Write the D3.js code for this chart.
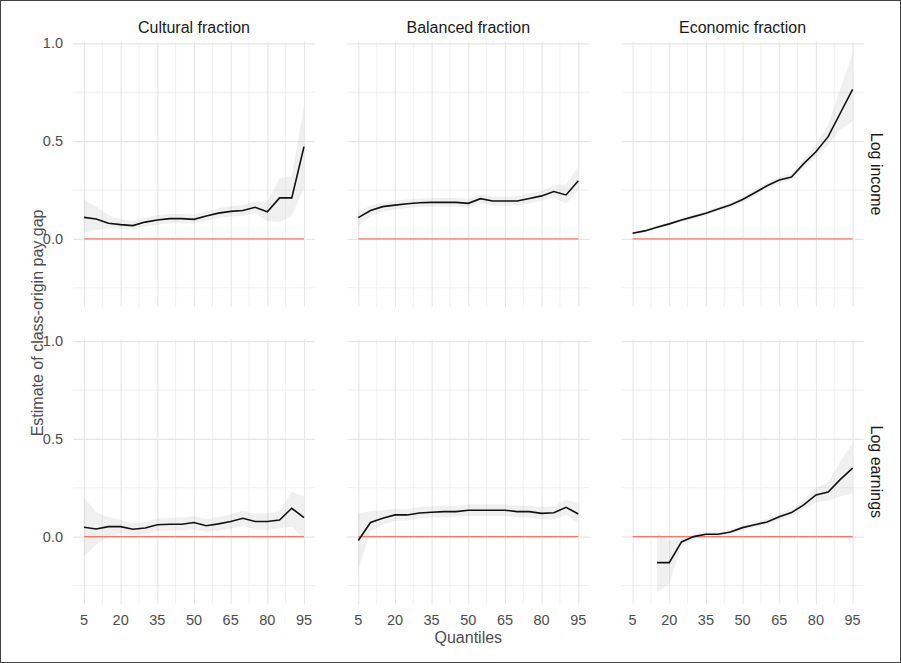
<!DOCTYPE html>
<html><head><meta charset="utf-8">
<script src="https://cdn.jsdelivr.net/npm/d3@7"></script>
<style>body{margin:0;background:#fff}svg{display:block}text{font-family:"Liberation Sans",Arial,sans-serif}</style>
</head><body><svg id="chart" width="901" height="663"></svg>
<script>
const quantiles = [5,10,15,20,25,30,35,40,45,50,55,60,65,70,75,80,85,90,95];
const xTicks = [5,20,35,50,65,80,95];
const yTicks = [0,0.5,1.0];
const columns = ["Cultural fraction","Balanced fraction","Economic fraction"];
const rows = ["Log income","Log earnings"];

// Log income
const culturalIncomeEst = [0.110,0.102,0.080,0.073,0.068,0.086,0.097,0.104,0.104,0.100,0.117,0.132,0.141,0.145,0.162,0.139,0.210,0.210,0.472];
const culturalIncomeLo  = [0.030,0.046,0.052,0.052,0.047,0.063,0.073,0.080,0.080,0.077,0.093,0.107,0.115,0.118,0.133,0.090,0.085,0.120,0.260];
const culturalIncomeHi  = [0.200,0.165,0.122,0.100,0.092,0.110,0.122,0.128,0.128,0.125,0.141,0.157,0.167,0.172,0.192,0.190,0.310,0.320,0.680];
const balancedIncomeEst = [0.109,0.145,0.165,0.173,0.180,0.185,0.187,0.187,0.187,0.182,0.206,0.194,0.194,0.194,0.207,0.220,0.242,0.225,0.298];
const balancedIncomeLo  = [0.065,0.115,0.140,0.150,0.158,0.163,0.165,0.165,0.165,0.160,0.183,0.171,0.171,0.171,0.183,0.195,0.212,0.180,0.250];
const balancedIncomeHi  = [0.140,0.170,0.188,0.196,0.202,0.207,0.209,0.209,0.209,0.205,0.229,0.217,0.217,0.218,0.232,0.245,0.272,0.280,0.370];
const economicIncomeEst = [0.029,0.041,0.060,0.077,0.097,0.114,0.131,0.153,0.173,0.202,0.236,0.272,0.301,0.317,0.385,0.446,0.523,0.644,0.765];
const economicIncomeLo  = [0.022,0.033,0.051,0.068,0.087,0.103,0.120,0.141,0.160,0.188,0.221,0.256,0.284,0.298,0.360,0.418,0.480,0.560,0.600];
const economicIncomeHi  = [0.036,0.049,0.069,0.086,0.107,0.125,0.142,0.165,0.186,0.216,0.251,0.288,0.318,0.336,0.410,0.480,0.585,0.770,0.948];
// Log earnings
const culturalEarnEst = [0.048,0.039,0.051,0.051,0.038,0.044,0.061,0.063,0.063,0.072,0.056,0.065,0.077,0.094,0.077,0.077,0.085,0.145,0.097];
const culturalEarnLo  = [-0.100,-0.040,0.000,0.017,0.008,0.013,0.028,0.030,0.030,0.038,0.022,0.030,0.040,0.055,0.037,0.035,0.043,0.050,-0.010];
const culturalEarnHi  = [0.200,0.125,0.100,0.085,0.068,0.075,0.093,0.096,0.096,0.106,0.090,0.100,0.114,0.132,0.117,0.120,0.130,0.230,0.205];
const balancedEarnEst = [-0.020,0.072,0.094,0.111,0.111,0.121,0.125,0.128,0.128,0.135,0.135,0.135,0.135,0.128,0.128,0.119,0.122,0.150,0.116];
const balancedEarnLo  = [-0.170,0.026,0.062,0.080,0.082,0.092,0.096,0.099,0.100,0.106,0.106,0.106,0.106,0.099,0.098,0.088,0.088,0.110,0.070];
const balancedEarnHi  = [0.120,0.130,0.135,0.142,0.141,0.151,0.155,0.158,0.157,0.165,0.165,0.165,0.165,0.158,0.158,0.150,0.157,0.190,0.170];
const economicEarnEst = [null,null,-0.133,-0.133,-0.027,0.000,0.012,0.012,0.024,0.046,0.061,0.075,0.102,0.123,0.162,0.213,0.228,0.293,0.350];
const economicEarnLo  = [null,null,-0.285,-0.240,-0.050,-0.013,0.000,0.000,0.011,0.032,0.046,0.059,0.085,0.104,0.137,0.175,0.185,0.205,0.222];
const economicEarnHi  = [null,null,0.020,-0.020,-0.010,0.012,0.024,0.025,0.037,0.060,0.076,0.091,0.119,0.142,0.188,0.250,0.275,0.385,0.478];

const panels = [
  {r:0,c:0,est:culturalIncomeEst,lo:culturalIncomeLo,hi:culturalIncomeHi},
  {r:0,c:1,est:balancedIncomeEst,lo:balancedIncomeLo,hi:balancedIncomeHi},
  {r:0,c:2,est:economicIncomeEst,lo:economicIncomeLo,hi:economicIncomeHi},
  {r:1,c:0,est:culturalEarnEst,lo:culturalEarnLo,hi:culturalEarnHi},
  {r:1,c:1,est:balancedEarnEst,lo:balancedEarnLo,hi:balancedEarnHi},
  {r:1,c:2,est:economicEarnEst,lo:economicEarnLo,hi:economicEarnHi}
];

const svg = d3.select("#chart");
const W = 901, H = 663;
const mLeft = 73, mTop = 41.5, pw = 242, ph = 265.2, gapX = 32.3, gapY = 32.5;

const xmin = d3.min(quantiles), xmax = d3.max(quantiles);
const xe = (xmax - xmin) * 0.05;
const x = d3.scaleLinear().domain([xmin - xe, xmax + xe]).range([0, pw]);
const allLo = d3.min(panels, p => d3.min(p.lo.filter(v => v != null)));
const allHi = d3.max(panels, p => d3.max(p.hi.filter(v => v != null)));
const ye = (allHi - allLo) * 0.05;
const y = d3.scaleLinear().domain([allLo - ye, allHi + ye]).range([ph, 0]);

const xMinor = d3.range(xmin + 7.5, xmax, 15);
const yMinor = [-0.25, 0.25, 0.75];

panels.forEach(p => {
  const g = svg.append("g").attr("transform", `translate(${mLeft + p.c*(pw+gapX)},${mTop + p.r*(ph+gapY)})`);
  g.selectAll(".ymin").data(yMinor).join("line").attr("x1",0).attr("x2",pw)
    .attr("y1",d=>y(d)).attr("y2",d=>y(d)).attr("stroke","#f0f0f0").attr("stroke-width",1);
  g.selectAll(".xmin").data(xMinor).join("line").attr("y1",0).attr("y2",ph)
    .attr("x1",d=>x(d)).attr("x2",d=>x(d)).attr("stroke","#f0f0f0").attr("stroke-width",1);
  g.append("g").call(d3.axisLeft(y).tickValues(yTicks).tickSize(-pw).tickFormat(""))
    .call(a=>a.select(".domain").remove()).selectAll("line").attr("stroke","#e6e6e6").attr("stroke-width",1.1);
  g.append("g").attr("transform",`translate(0,${ph})`).call(d3.axisBottom(x).tickValues(xTicks).tickSize(-ph).tickFormat(""))
    .call(a=>a.select(".domain").remove()).selectAll("line").attr("stroke","#e6e6e6").attr("stroke-width",1.1);

  const data = quantiles.map((q,i)=>({q, est:p.est[i], lo:p.lo[i], hi:p.hi[i]}));
  const area = d3.area().defined(d=>d.lo!=null).x(d=>x(d.q)).y0(d=>y(d.lo)).y1(d=>y(d.hi));
  g.append("path").datum(data).attr("d",area).attr("fill","#999").attr("fill-opacity",0.15);
  const zero = d3.line().x(d=>x(d.q)).y(()=>y(0));
  g.append("path").datum(data).attr("d",zero).attr("fill","none").attr("stroke","#f8766d").attr("stroke-width",1.3);
  const line = d3.line().defined(d=>d.est!=null).x(d=>x(d.q)).y(d=>y(d.est));
  g.append("path").datum(data).attr("d",line).attr("fill","none").attr("stroke","#111").attr("stroke-width",1.6);

  if (p.c === 0) {
    g.selectAll(".yl").data(yTicks).join("text").attr("x",-10).attr("y",d=>y(d)).attr("dy","0.35em")
      .attr("text-anchor","end").attr("font-size",14.5).attr("fill","#4d4d4d").text(d3.format(".1f"));
  }
  if (p.r === 1) {
    g.selectAll(".xl").data(xTicks).join("text").attr("x",d=>x(d)).attr("y",ph+21)
      .attr("text-anchor","middle").attr("font-size",14.5).attr("fill","#4d4d4d").text(d=>d);
  }
  if (p.r === 0) {
    g.append("text").attr("x",pw/2).attr("y",-8.5).attr("text-anchor","middle").attr("font-size",16)
      .attr("fill","#1a1a1a").text(columns[p.c]);
  }
  if (p.c === 2) {
    g.append("text").attr("transform",`translate(${pw+13.5},${ph/2}) rotate(90)`).attr("text-anchor","middle")
      .attr("dy","0.35em").attr("font-size",16).attr("fill","#1a1a1a").text(rows[p.r]);
  }
});

svg.append("text").attr("x", mLeft + (3*pw+2*gapX)/2).attr("y", 643).attr("text-anchor","middle")
  .attr("font-size",16).attr("fill","#4d4d4d").text("Quantiles");
svg.append("text").attr("transform",`translate(37,${mTop + (2*ph+gapY)/2}) rotate(-90)`).attr("text-anchor","middle")
  .attr("dy","0.35em").attr("font-size",16).attr("fill","#4d4d4d").text("Estimate of class-origin pay gap");

svg.append("rect").attr("x",0.5).attr("y",0.5).attr("width",W-1).attr("height",H-1)
  .attr("fill","none").attr("stroke","#444").attr("stroke-width",1);
</script></body></html>
